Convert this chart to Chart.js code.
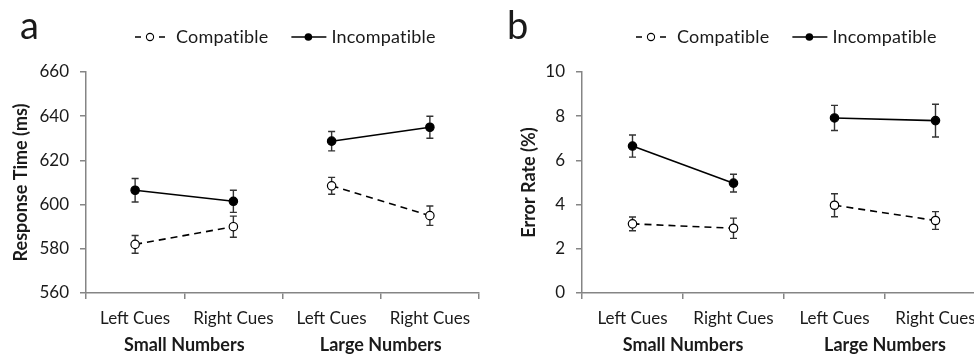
<!DOCTYPE html>
<html>
<head>
<meta charset="utf-8">
<script src="https://cdn.jsdelivr.net/npm/chart.js@4.4.1/dist/chart.umd.min.js"></script>
<style>
html, body { margin: 0; padding: 0; background: #fff; overflow: hidden; }
#wrap { position: relative; width: 974px; height: 357px; overflow: hidden; }
canvas { position: absolute; top: 0; }
#chartA { left: 0; }
#chartB { left: 487px; }
</style>
</head>
<body>
<div id="wrap">
  <canvas id="chartA" width="487" height="357"></canvas>
  <canvas id="chartB" width="510" height="357"></canvas>
</div>
<script>
// categories and groups
var cues = ['Left Cues', 'Right Cues', 'Left Cues', 'Right Cues'];
var cueGroup = [0, 0, 1, 1];
var groupNames = ['Small Numbers', 'Large Numbers'];
var seriesNames = ['Compatible', 'Incompatible'];

// panel a - response time (ms)
var rtCompatible = [582, 590, 608.5, 595];
var rtCompatibleErr = [4, 4.8, 3.8, 4.4];
var rtIncompatible = [606.5, 601.5, 628.7, 635];
var rtIncompatibleErr = [5.3, 5, 4.4, 5];
var rtTicks = [560, 580, 600, 620, 640, 660];

// panel b - error rate (%)
var erCompatible = [3.13, 2.93, 3.97, 3.28];
var erCompatibleErr = [0.31, 0.46, 0.52, 0.4];
var erIncompatible = [6.65, 4.97, 7.92, 7.8];
var erIncompatibleErr = [0.5, 0.4, 0.57, 0.74];
var erTicks = [0, 2, 4, 6, 8, 10];

var FONT = 'Lato';
var TEXT = '#1a1a1a';
var AXIS = '#858585';

// error bars drawn under the lines/points
var errorBars = {
    id: 'errorBars',
    beforeDatasetsDraw: function (chart) {
        var ctx = chart.ctx;
        var y = chart.scales.y;
        chart.data.datasets.forEach(function (ds, i) {
            var meta = chart.getDatasetMeta(i);
            meta.data.forEach(function (pt, j) {
                var top = y.getPixelForValue(ds.data[j] + ds.errors[j]);
                var bot = y.getPixelForValue(ds.data[j] - ds.errors[j]);
                ctx.save();
                ctx.strokeStyle = '#333';
                ctx.lineWidth = 1.4;
                ctx.beginPath();
                ctx.moveTo(pt.x, top); ctx.lineTo(pt.x, bot);
                ctx.moveTo(pt.x - 3.5, top); ctx.lineTo(pt.x + 3.5, top);
                ctx.moveTo(pt.x - 3.5, bot); ctx.lineTo(pt.x + 3.5, bot);
                ctx.stroke();
                ctx.restore();
            });
        });
    }
};

// panel letter, legend, group labels under the x axis
var decor = {
    id: 'decor',
    afterDraw: function (chart, args, opts) {
        var ctx = chart.ctx;
        var x = chart.scales.x;
        ctx.save();
        ctx.fillStyle = TEXT;
        ctx.textBaseline = 'alphabetic';
        ctx.textAlign = 'left';
        ctx.font = '38px ' + FONT;
        ctx.fillText(opts.letter, 20, 39);

        // group labels
        ctx.font = 'bold 18px ' + FONT;
        ctx.textAlign = 'center';
        ctx.textBaseline = 'middle';
        groupNames.forEach(function (g, gi) {
            var xs = [];
            cueGroup.forEach(function (c, k) { if (c === gi) xs.push(x.getPixelForValue(k)); });
            var cx = xs.reduce(function (a, b) { return a + b; }, 0) / xs.length;
            ctx.fillText(g, cx, chart.chartArea.bottom + 52);
        });

        // legend
        var lx = opts.legendX, ly = 37;
        var dsC = chart.data.datasets[0], dsI = chart.data.datasets[1];
        ctx.strokeStyle = '#000';
        ctx.lineWidth = 1.6;
        ctx.beginPath();
        ctx.moveTo(lx, ly); ctx.lineTo(lx + 6, ly);
        ctx.moveTo(lx + 24, ly); ctx.lineTo(lx + 30, ly);
        ctx.stroke();
        ctx.beginPath();
        ctx.lineWidth = 1.1;
        ctx.arc(lx + 15, ly, 3.6, 0, Math.PI * 2);
        ctx.fillStyle = dsC.pointBackgroundColor;
        ctx.fill();
        ctx.stroke();
        ctx.fillStyle = TEXT;
        ctx.font = '18px ' + FONT;
        ctx.letterSpacing = '0.2px'; // keeps "ti" from turning into a ligature
        ctx.textAlign = 'left';
        ctx.fillText(dsC.label, lx + 41, ly);
        var tw = ctx.measureText(dsC.label).width;
        var lx2 = lx + 41 + tw + 23;
        ctx.lineWidth = 1.6;
        ctx.beginPath();
        ctx.moveTo(lx2, ly); ctx.lineTo(lx2 + 35, ly);
        ctx.stroke();
        ctx.beginPath();
        ctx.arc(lx2 + 17, ly, 3.8, 0, Math.PI * 2);
        ctx.fillStyle = dsI.pointBackgroundColor;
        ctx.fill();
        ctx.fillStyle = TEXT;
        ctx.fillText(dsI.label, lx2 + 40, ly);
        ctx.restore();
    }
};

function makeDataset(label, values, errs, filled) {
    return {
        label: label,
        data: values,
        errors: errs,
        borderColor: '#000',
        borderWidth: 1.6,
        borderDash: filled ? [] : [7, 5],
        pointRadius: 4.2,
        pointHoverRadius: 4.2,
        pointBorderWidth: 1.2,
        pointBorderColor: '#000',
        pointBackgroundColor: filled ? '#000' : '#fff',
        tension: 0,
        segment: {
            borderColor: function (c) {
                return cueGroup[c.p0DataIndex] !== cueGroup[c.p1DataIndex] ? 'rgba(0,0,0,0)' : '#000';
            }
        }
    };
}

function makeChart(id, cfg) {
    return new Chart(document.getElementById(id), {
        type: 'line',
        data: {
            labels: cues,
            datasets: [
                makeDataset(seriesNames[0], cfg.comp, cfg.compErr, false),
                makeDataset(seriesNames[1], cfg.incomp, cfg.incompErr, true)
            ]
        },
        plugins: [errorBars, decor],
        options: {
            responsive: false,
            animation: false,
            devicePixelRatio: 1,
            layout: { padding: { top: 72, right: cfg.padRight, left: 0, bottom: 0 } },
            plugins: {
                legend: { display: false },
                tooltip: { enabled: false },
                decor: { letter: cfg.letter, legendX: cfg.legendX }
            },
            scales: {
                x: {
                    type: 'category',
                    offset: true,
                    grid: { offset: true, drawOnChartArea: false, drawTicks: true, tickLength: 6, color: AXIS, lineWidth: 1.5 },
                    border: { color: AXIS, width: 1.5 },
                    ticks: { color: TEXT, font: { family: FONT, size: 17 }, padding: 9, maxRotation: 0, autoSkip: false },
                    afterFit: function (s) { s.height = 64; }
                },
                y: {
                    min: cfg.ticks[0],
                    max: cfg.ticks[cfg.ticks.length - 1],
                    afterBuildTicks: function (s) { s.ticks = cfg.ticks.map(function (v) { return { value: v }; }); },
                    grid: { drawOnChartArea: false, drawTicks: true, tickLength: 6, color: AXIS, lineWidth: 1.5 },
                    border: { color: AXIS, width: 1.5 },
                    ticks: { color: TEXT, font: { family: FONT, size: 17 }, padding: 11 },
                    title: {
                        display: true,
                        text: cfg.yTitle,
                        color: TEXT,
                        font: { family: FONT, size: 18, weight: 'bold' },
                        padding: { top: cfg.titlePad, bottom: 0 }
                    },
                    afterFit: function (s) { s.width = cfg.yWidth; }
                }
            }
        }
    });
}

var ChartA = makeChart('chartA', {
    comp: rtCompatible, compErr: rtCompatibleErr,
    incomp: rtIncompatible, incompErr: rtIncompatibleErr,
    ticks: rtTicks, yTitle: 'Response Time (ms)',
    letter: 'a', legendX: 135, yWidth: 86, padRight: 8, titlePad: 10
});
var ChartB = makeChart('chartB', {
    comp: erCompatible, compErr: erCompatibleErr,
    incomp: erIncompatible, incompErr: erIncompatibleErr,
    ticks: erTicks, yTitle: 'Error Rate (%)',
    letter: 'b', legendX: 149, yWidth: 95, padRight: 11, titlePad: 31
});
</script>
</body>
</html>
